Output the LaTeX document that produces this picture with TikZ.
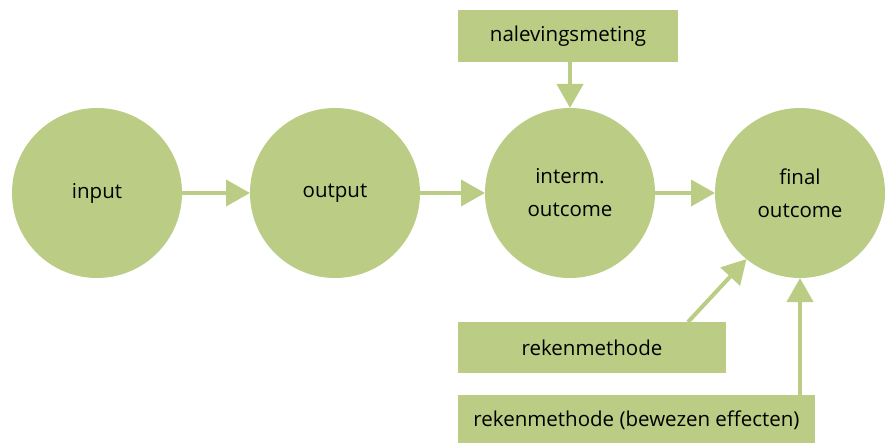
\documentclass[tikz,border=0pt]{standalone}
\usepackage{fontspec}
\setmainfont{Open Sans}
\usetikzlibrary{arrows.meta}
\definecolor{groen}{RGB}{187,205,133}

\begin{document}
\begin{tikzpicture}[x=1pt,y=-1pt,
  bol/.style={circle,fill=groen,minimum size=170pt,inner sep=0pt,outer sep=0pt,
    align=center,font=\fontsize{20.5}{33}\selectfont},
  blok/.style={rectangle,fill=groen,inner sep=0pt,outer sep=0pt,
    font=\fontsize{20.5}{24}\selectfont},
  pijl/.style={groen,line width=4pt,-{Triangle[width=26pt,length=24pt]}}]
\useasboundingbox (0,0) rectangle (885,443);
%% cirkels;
\node[bol] (input) at (97,193) {input};
\node[bol] (output) at (335,193) {output};
\node[bol] (interm) at (570,193) {interm.\\outcome};
\node[bol] (final) at (800,193) {final\\outcome};
%% blokken;
\node[blok,minimum width=220pt,minimum height=52pt] (nal) at (568,36) {nalevingsmeting};
\node[blok,minimum width=268pt,minimum height=51pt] (rek) at (592,347.5) {rekenmethode};
\node[blok,minimum width=357pt,minimum height=51pt] (bew) at (636.5,420.5) {rekenmethode (bewezen effecten)};
%% pijlen;
\draw[pijl] (input) -- (output);
\draw[pijl] (output) -- (interm);
\draw[pijl] (interm) -- (final);
\draw[pijl] (nal.south -| interm.north) -- (interm.north);
\draw[pijl] ([xshift=-38pt]rek.north east) -- (final.231);
\draw[pijl] (final.south |- bew.north) -- (final.south);
\end{tikzpicture}
\end{document}
